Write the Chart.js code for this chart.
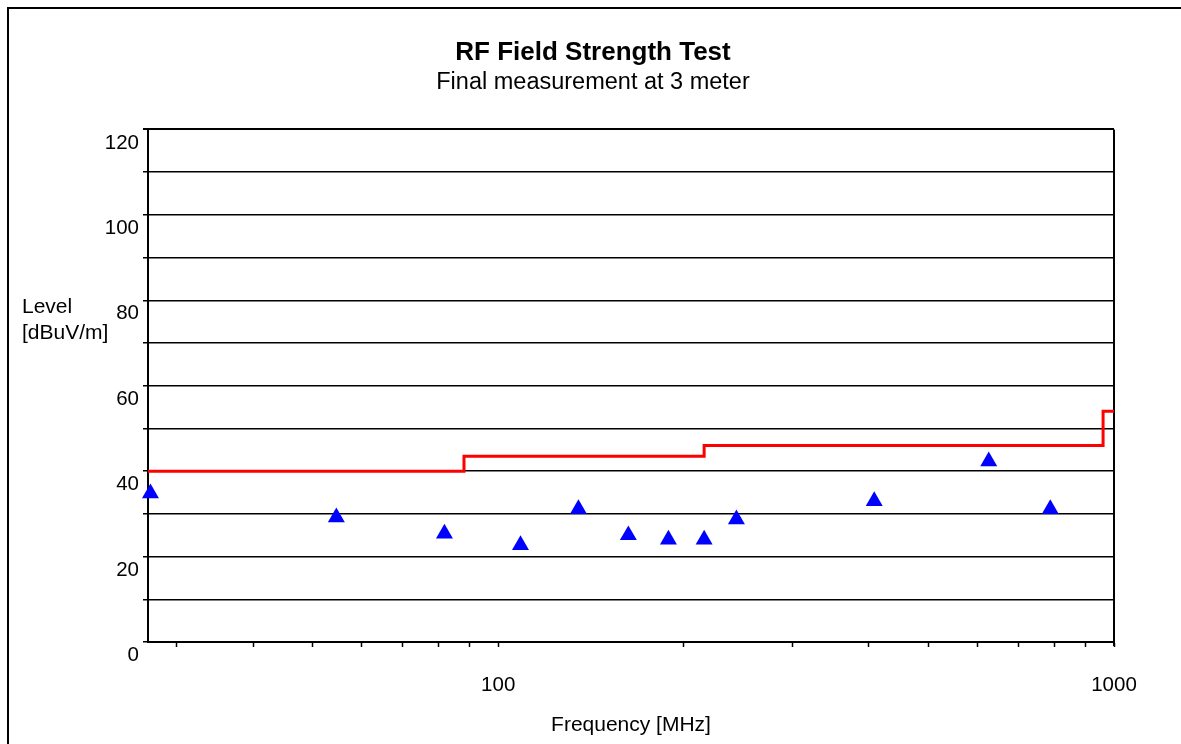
<!DOCTYPE html>
<html>
<head>
<meta charset="utf-8">
<script src="https://cdn.jsdelivr.net/npm/chart.js@4"></script>
<style>
  html, body { margin: 0; padding: 0; background: #fff; overflow: hidden; }
  #frame { position: absolute; left: 7px; top: 7px; width: 1300px; height: 900px; border: 2px solid #000; }
  #wrap { position: absolute; left: 0; top: 0; width: 1181px; height: 744px; }
</style>
</head>
<body>
<div id="frame"></div>
<div id="wrap"><canvas id="myChart"></canvas></div>
<script>
// measured peaks (MHz / dBuV/m)
var measFreq = [27.25, 54.6, 81.8, 108.7, 135, 162.7, 189, 216, 243.7, 408, 626, 788];
var measLevel = [34.8, 29.2, 25.4, 22.7, 31.1, 25.0, 24.0, 24.0, 28.7, 33.0, 42.3, 31.1];

// limit line
var limitFreq = [27, 88, 216, 960, 1000];
var limitLevel = [40, 43.5, 46, 54, 54];

// axis ticks
var xTicks = [30, 40, 50, 60, 70, 80, 90, 100, 200, 300, 400, 500, 600, 700, 800, 900, 1000];
var xTickLabels = [100, 1000];
var yLabelStep = 20;

var FONT = '"Liberation Sans", Arial, sans-serif';

var extras = {
    id: 'extras',
    beforeDatasetsDraw: function (chart) {
        var a = chart.chartArea, c = chart.ctx;
        c.save();
        c.strokeStyle = '#000';
        c.lineWidth = 2;
        c.beginPath();
        c.moveTo(a.right, a.top);
        c.lineTo(a.right, a.bottom + 4);
        c.stroke();
        c.restore();
    },
    afterDraw: function (chart) {
        var c = chart.ctx;
        c.save();
        c.fillStyle = '#000';
        c.font = '21px ' + FONT;
        c.textAlign = 'left';
        c.textBaseline = 'alphabetic';
        c.fillText('Level', 22, 313);
        c.fillText('[dBuV/m]', 22, 339);
        c.restore();
    }
};

var ctx = document.getElementById('myChart').getContext('2d');

var myChart = new Chart(ctx, {
    type: 'scatter',
    data: {
        datasets: [{
            label: 'Final',
            data: measFreq.map(function (f, i) { return {x: f, y: measLevel[i]}; }),
            pointStyle: 'triangle',
            pointRadius: 9.8,
            backgroundColor: '#0000ff',
            borderWidth: 0,
            clip: false,
            order: 0
        },
        {
            type: 'line',
            label: 'Limit',
            data: limitFreq.map(function (f, i) { return {x: f, y: limitLevel[i]}; }),
            stepped: 'before',
            borderColor: '#ff0000',
            borderWidth: 3,
            pointRadius: 0,
            fill: false,
            order: 1
        }]
    },
    options: {
        responsive: true,
        maintainAspectRatio: false,
        animation: false,
        layout: {
            padding: {left: 72, right: 67, top: 0, bottom: 0}
        },
        plugins: {
            legend: { display: false },
            tooltip: { enabled: false },
            title: {
                display: true,
                text: 'RF Field Strength Test',
                color: '#000',
                font: { family: FONT, size: 26, weight: 'bold' },
                padding: { top: 37, bottom: 0 }
            },
            subtitle: {
                display: true,
                text: 'Final measurement at 3 meter',
                color: '#000',
                font: { family: FONT, size: 23.5 },
                padding: { top: 0, bottom: 33 }
            }
        },
        scales: {
            x: {
                type: 'logarithmic',
                min: 27,
                max: 1000,
                afterBuildTicks: function (scale) {
                    scale.ticks = xTicks.map(function (v) { return {value: v}; });
                },
                afterFit: function (scale) { scale.height = 102; },
                ticks: {
                    autoSkip: false,
                    maxRotation: 0,
                    padding: 26,
                    color: '#000',
                    font: { family: FONT, size: 20.5 },
                    callback: function (v) {
                        return xTickLabels.indexOf(v) >= 0 ? String(v) : '';
                    }
                },
                grid: {
                    drawOnChartArea: false,
                    tickLength: 5,
                    tickColor: '#000',
                    tickWidth: 1.5
                },
                border: { color: '#000', width: 2 },
                title: {
                    display: true,
                    text: 'Frequency [MHz]',
                    color: '#000',
                    font: { family: FONT, size: 21 },
                    padding: { top: 0, bottom: 6 }
                }
            },
            y: {
                min: 0,
                max: 120,
                afterFit: function (scale) { scale.width = 76; },
                ticks: {
                    stepSize: 10,
                    padding: 4,
                    labelOffset: 13.5,
                    color: '#000',
                    font: { family: FONT, size: 20.5 },
                    callback: function (v) { return v % yLabelStep === 0 ? v : ''; }
                },
                grid: {
                    color: '#000',
                    lineWidth: function (c) { return c.tick && c.tick.value === 120 ? 2 : 1.5; },
                    tickLength: 5,
                    tickColor: '#000'
                },
                border: { color: '#000', width: 2 }
            }
        }
    },
    plugins: [extras]
});
</script>
</body>
</html>
